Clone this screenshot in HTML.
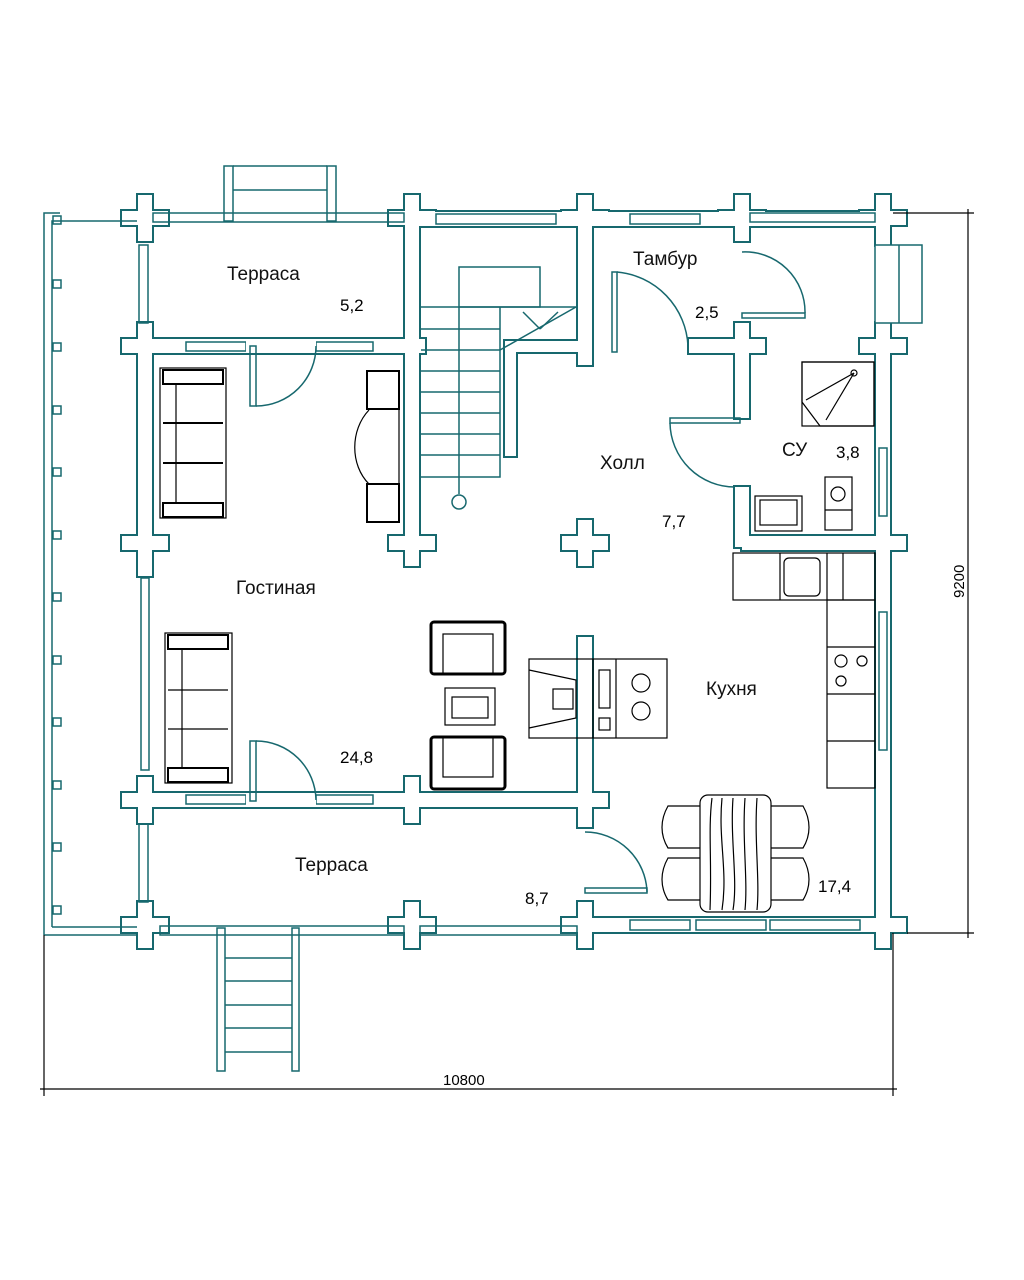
<!DOCTYPE html>
<html><head><meta charset="utf-8"><style>
html,body{margin:0;padding:0;background:#fff;}
svg{display:block;}
.t{font-family:"Liberation Sans",sans-serif;font-size:19px;fill:#111;font-weight:normal;}
.n{font-family:"Liberation Sans",sans-serif;font-size:17px;fill:#000;}
</style></head><body>
<svg width="1024" height="1280" viewBox="0 0 1024 1280" xmlns="http://www.w3.org/2000/svg">
<defs>
<g id="walls">
  <rect x="138" y="195" width="14" height="46"/><rect x="122" y="211" width="46" height="14"/>
  <rect x="405" y="195" width="14" height="46"/><rect x="389" y="211" width="46" height="14"/>
  <rect x="578" y="195" width="14" height="46"/><rect x="562" y="211" width="46" height="14"/>
  <rect x="735" y="195" width="14" height="46"/><rect x="719" y="211" width="46" height="14"/>
  <rect x="876" y="195" width="14" height="46"/><rect x="860" y="211" width="46" height="14"/>
  <rect x="138" y="323" width="14" height="46"/><rect x="122" y="339" width="46" height="14"/>
  <rect x="405" y="323" width="14" height="46"/><rect x="389" y="339" width="36" height="14"/>
  <rect x="578" y="323" width="14" height="42"/>
  <rect x="735" y="323" width="14" height="46"/><rect x="689" y="339" width="76" height="14"/>
  <rect x="876" y="323" width="14" height="46"/><rect x="860" y="339" width="46" height="14"/>
  <rect x="138" y="520" width="14" height="56"/><rect x="122" y="536" width="46" height="14"/>
  <rect x="405" y="520" width="14" height="46"/><rect x="389" y="536" width="46" height="14"/>
  <rect x="578" y="520" width="14" height="46"/><rect x="562" y="536" width="46" height="14"/>
  <rect x="876" y="520" width="14" height="46"/><rect x="860" y="536" width="46" height="14"/>
  <rect x="138" y="777" width="14" height="46"/><rect x="122" y="793" width="46" height="14"/>
  <rect x="405" y="777" width="14" height="46"/><rect x="389" y="793" width="46" height="14"/>
  <rect x="578" y="777" width="14" height="50"/><rect x="562" y="793" width="46" height="14"/>
  <rect x="138" y="902" width="14" height="46"/><rect x="122" y="918" width="46" height="14"/>
  <rect x="405" y="902" width="14" height="46"/><rect x="389" y="918" width="46" height="14"/>
  <rect x="578" y="902" width="14" height="46"/><rect x="562" y="918" width="46" height="14"/>
  <rect x="876" y="902" width="14" height="46"/><rect x="860" y="918" width="46" height="14"/>
  <rect x="138" y="339" width="274" height="14"/>
  <rect x="138" y="346" width="14" height="200"/>
  <rect x="405" y="218" width="14" height="120"/>
  <rect x="405" y="354" width="14" height="190"/>
  <rect x="412" y="212" width="470" height="14"/>
  <rect x="578" y="218" width="14" height="130"/>
  <rect x="735" y="346" width="14" height="72"/>
  <rect x="735" y="487" width="14" height="60"/>
  <rect x="742" y="536" width="140" height="14"/>
  <rect x="876" y="218" width="14" height="27"/>
  <rect x="876" y="323" width="14" height="610"/>
  <rect x="138" y="793" width="460" height="14"/>
  <rect x="578" y="637" width="14" height="170"/>
  <rect x="585" y="918" width="298" height="14"/>
  <rect x="505" y="341" width="11" height="115"/>
  <rect x="505" y="341" width="80" height="11"/>
</g>
</defs>
<use href="#walls" fill="#17686e" stroke="#17686e" stroke-width="4"/>
<use href="#walls" fill="#fff" stroke="none"/>

<g fill="none" stroke="#17686e" stroke-width="1.5">
  <rect x="186" y="342" width="60" height="9" fill="#fff"/>
  <rect x="316" y="342" width="57" height="9" fill="#fff"/>
  <rect x="246" y="340" width="70" height="12" fill="#fff" stroke="none"/>
  <rect x="186" y="795" width="60" height="9" fill="#fff"/>
  <rect x="316" y="795" width="57" height="9" fill="#fff"/>
  <rect x="246" y="794" width="70" height="12" fill="#fff" stroke="none"/>
  <rect x="141" y="578" width="8" height="192" fill="#fff"/>
  <rect x="436" y="214" width="120" height="10" fill="#fff"/>
  <rect x="630" y="214" width="70" height="10" fill="#fff"/>
  <rect x="879" y="448" width="8" height="68" fill="#fff"/>
  <rect x="879" y="612" width="8" height="138" fill="#fff"/>
  <rect x="630" y="920" width="60" height="10" fill="#fff"/>
  <rect x="696" y="920" width="70" height="10" fill="#fff"/>
  <rect x="770" y="920" width="90" height="10" fill="#fff"/>
  <rect x="746" y="214" width="126" height="10" fill="#fff" stroke="none"/>
  <rect x="153" y="213" width="251" height="9"/>
  <rect x="750" y="213" width="125" height="9"/>
  <rect x="139" y="245" width="9" height="78"/>
  <rect x="139" y="824" width="9" height="78"/>
  <rect x="160" y="926" width="244" height="9"/>
  <rect x="420" y="926" width="157" height="9"/>
  <polyline points="44,935 44,213 60,213"/>
  <polyline points="52,927 52,221 137,221"/>
  <line x1="52" y1="927" x2="137" y2="927"/>
  <line x1="44" y1="935" x2="137" y2="935"/>
  <rect x="53" y="216" width="8" height="8"/><rect x="53" y="280" width="8" height="8"/>
  <rect x="53" y="343" width="8" height="8"/><rect x="53" y="406" width="8" height="8"/>
  <rect x="53" y="468" width="8" height="8"/><rect x="53" y="531" width="8" height="8"/>
  <rect x="53" y="593" width="8" height="8"/><rect x="53" y="656" width="8" height="8"/>
  <rect x="53" y="718" width="8" height="8"/><rect x="53" y="781" width="8" height="8"/>
  <rect x="53" y="843" width="8" height="8"/><rect x="53" y="906" width="8" height="8"/>
  <rect x="224" y="166" width="9" height="55"/><rect x="327" y="166" width="9" height="55"/>
  <line x1="233" y1="166" x2="327" y2="166"/><line x1="233" y1="190" x2="327" y2="190"/>
  <rect x="217" y="928" width="8" height="143"/><rect x="292" y="928" width="7" height="143"/>
  <line x1="225" y1="958" x2="292" y2="958"/><line x1="225" y1="981" x2="292" y2="981"/>
  <line x1="225" y1="1005" x2="292" y2="1005"/><line x1="225" y1="1028" x2="292" y2="1028"/>
  <line x1="225" y1="1052" x2="292" y2="1052"/>
  <rect x="875" y="245" width="47" height="78" fill="#fff"/><line x1="899" y1="245" x2="899" y2="323"/>
  <rect x="459" y="267" width="81" height="40"/>
  <line x1="421" y1="307" x2="576" y2="307"/>
  <polyline points="421,477 500,477 500,307"/>
  <line x1="421" y1="329" x2="500" y2="329"/><line x1="421" y1="350" x2="500" y2="350"/>
  <line x1="421" y1="371" x2="500" y2="371"/><line x1="421" y1="392" x2="500" y2="392"/>
  <line x1="421" y1="413" x2="500" y2="413"/><line x1="421" y1="434" x2="500" y2="434"/>
  <line x1="421" y1="455" x2="500" y2="455"/>
  <line x1="459" y1="307" x2="459" y2="494"/>
  <circle cx="459" cy="502" r="7"/>
  <line x1="500" y1="350" x2="576" y2="307"/>
  <line x1="523" y1="312" x2="540" y2="329"/><line x1="558" y1="312" x2="540" y2="329"/>
  <rect x="250" y="346" width="6" height="60"/><path d="M256,406 A60,60 0 0 0 316,346"/>
  <rect x="250" y="741" width="6" height="60"/><path d="M256,741 A60,60 0 0 1 316,800"/>
  <rect x="612" y="272" width="5" height="80"/><path d="M617,272 A78,78 0 0 1 688,346"/>
  <rect x="742" y="313" width="63" height="5"/><path d="M742,252 A60,60 0 0 1 805,313"/>
  <rect x="670" y="418" width="70" height="5"/><path d="M670,423 A65,65 0 0 0 735,487"/>
  <rect x="585" y="888" width="62" height="5"/><path d="M585,832 A62,62 0 0 1 647,892"/>
</g>

<g fill="none" stroke="#000" stroke-width="1.2">
  <rect x="160" y="368" width="66" height="150"/><rect x="163" y="370" width="60" height="14" stroke-width="2"/>
  <rect x="163" y="503" width="60" height="14" stroke-width="2"/>
  <line x1="176" y1="384" x2="176" y2="503"/><line x1="163" y1="423" x2="223" y2="423" stroke-width="2"/><line x1="163" y1="463" x2="223" y2="463" stroke-width="2"/>
  <rect x="165" y="633" width="67" height="150"/><rect x="168" y="635" width="60" height="14" stroke-width="2"/>
  <rect x="168" y="768" width="60" height="14" stroke-width="2"/>
  <line x1="182" y1="649" x2="182" y2="768"/><line x1="168" y1="690" x2="228" y2="690"/><line x1="168" y1="729" x2="228" y2="729"/>
  <rect x="367" y="371" width="32" height="38" stroke-width="2"/><rect x="367" y="484" width="32" height="38" stroke-width="2"/>
  <path d="M369,410 C350,430 350,465 369,484"/><line x1="399" y1="410" x2="399" y2="484"/>
  <rect x="431" y="622" width="74" height="52" rx="3" stroke-width="3"/><rect x="443" y="634" width="50" height="40"/>
  <rect x="431" y="737" width="74" height="52" rx="3" stroke-width="3"/><rect x="443" y="737" width="50" height="40"/>
  <rect x="445" y="688" width="50" height="37"/><rect x="452" y="697" width="36" height="21"/>
  <rect x="529" y="659" width="138" height="79"/><line x1="593" y1="659" x2="593" y2="738"/><line x1="616" y1="659" x2="616" y2="738"/>
  <polyline points="529,670 576,680 576,718 529,728"/><rect x="553" y="689" width="20" height="20"/>
  <rect x="599" y="670" width="11" height="38"/><rect x="599" y="718" width="11" height="12"/>
  <circle cx="641" cy="683" r="9"/><circle cx="641" cy="711" r="9"/>
  <rect x="733" y="553" width="142" height="47"/><line x1="780" y1="553" x2="780" y2="600"/><line x1="843" y1="553" x2="843" y2="600"/>
  <rect x="784" y="558" width="36" height="38" rx="5"/><line x1="827" y1="553" x2="827" y2="600"/>
  <rect x="827" y="600" width="48" height="188"/>
  <line x1="827" y1="647" x2="875" y2="647"/><line x1="827" y1="694" x2="875" y2="694"/><line x1="827" y1="741" x2="875" y2="741"/>
  <circle cx="841" cy="661" r="6"/><circle cx="862" cy="661" r="5"/><circle cx="841" cy="681" r="5"/>
  <rect x="802" y="362" width="72" height="64"/><path d="M802,362 L874,362 L874,426 L820,426 L802,402 Z"/>
  <line x1="806" y1="400" x2="854" y2="373"/><line x1="826" y1="420" x2="854" y2="373"/><circle cx="854" cy="373" r="3"/>
  <rect x="755" y="496" width="47" height="35"/><rect x="760" y="500" width="37" height="25"/>
  <rect x="825" y="477" width="27" height="53"/><circle cx="838" cy="494" r="7"/><line x1="825" y1="510" x2="852" y2="510"/>
  <rect x="700" y="795" width="71" height="117" rx="8"/>
  <path d="M712,798 C708,830 712,860 710,910 M722,798 C718,840 728,870 722,910 M733,798 C730,840 738,880 733,910 M745,798 C742,840 748,880 745,910 M757,798 C754,840 760,880 757,910"/>
  <path d="M700,806 L668,806 C660,820 660,835 668,848 L700,848"/><path d="M700,858 L668,858 C660,872 660,887 668,900 L700,900"/>
  <path d="M771,806 L803,806 C811,820 811,835 803,848 L771,848"/><path d="M771,858 L803,858 C811,872 811,887 803,900 L771,900"/>
  <line x1="44" y1="935" x2="44" y2="1096"/><line x1="893" y1="933" x2="893" y2="1096"/>
  <line x1="40" y1="1089" x2="897" y2="1089"/>
  <line x1="893" y1="213" x2="974" y2="213"/><line x1="907" y1="933" x2="974" y2="933"/>
  <line x1="968" y1="209" x2="968" y2="938"/>
</g>

<g>
<text class="t" x="227" y="280">Терраса</text>
<text class="n" x="340" y="311">5,2</text>
<text class="t" x="633" y="265">Тамбур</text>
<text class="n" x="695" y="318">2,5</text>
<text class="t" x="600" y="469">Холл</text>
<text class="n" x="662" y="527">7,7</text>
<text class="t" x="782" y="456">СУ</text>
<text class="n" x="836" y="458">3,8</text>
<text class="t" x="236" y="594">Гостиная</text>
<text class="n" x="340" y="763">24,8</text>
<text class="t" x="706" y="695">Кухня</text>
<text class="n" x="818" y="892">17,4</text>
<text class="t" x="295" y="871">Терраса</text>
<text class="n" x="525" y="904">8,7</text>
<text class="n" x="443" y="1085" style="font-size:15px">10800</text>
<text class="n" x="0" y="0" style="font-size:15px" transform="translate(964,598) rotate(-90)">9200</text>
</g>
</svg>
</body></html>
